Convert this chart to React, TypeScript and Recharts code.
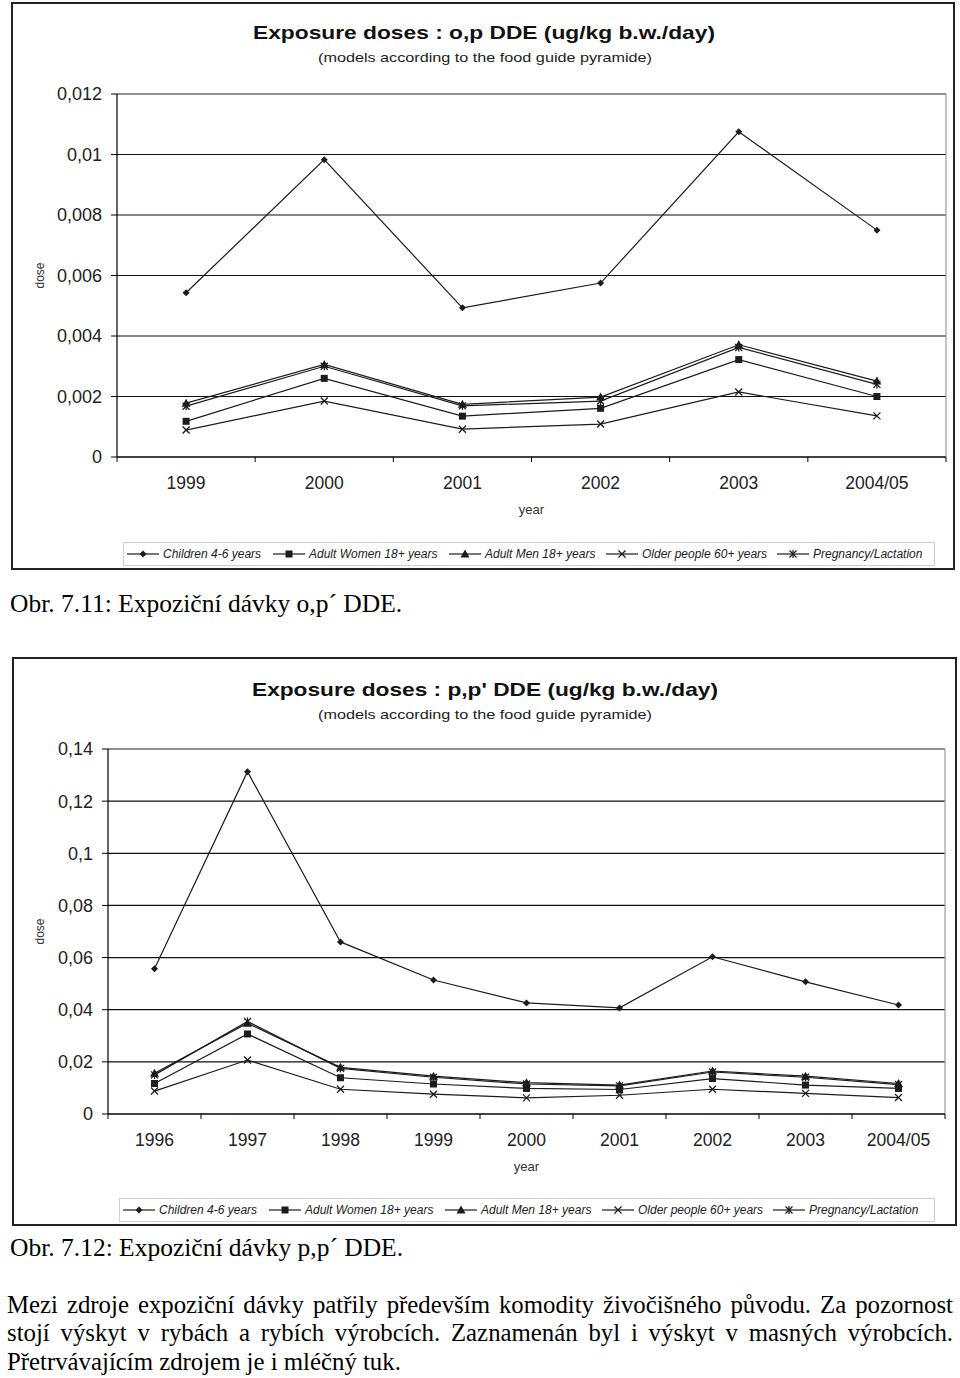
import React from 'react';
import { LineChart, Line, XAxis, YAxis, CartesianGrid, ReferenceLine, Label } from 'recharts';

// ---------- DATA: o,p DDE ----------
const opCategories = ['1999', '2000', '2001', '2002', '2003', '2004/05'];
const opChildren = [0.00543, 0.00983, 0.00493, 0.00575, 0.01075, 0.0075];
const opWomen = [0.00118, 0.0026, 0.00135, 0.00161, 0.00322, 0.002];
const opMen = [0.00178, 0.00306, 0.00174, 0.00198, 0.00371, 0.00251];
const opOlder = [0.00089, 0.00185, 0.00092, 0.00109, 0.00215, 0.00136];
const opPregnancy = [0.00168, 0.003, 0.00169, 0.00185, 0.00362, 0.0024];
const opTicks = [0, 0.002, 0.004, 0.006, 0.008, 0.01, 0.012];

// ---------- DATA: p,p' DDE ----------
const ppCategories = ['1996', '1997', '1998', '1999', '2000', '2001', '2002', '2003', '2004/05'];
const ppChildren = [0.0557, 0.1313, 0.066, 0.0514, 0.0426, 0.0407, 0.0603, 0.0507, 0.0418];
const ppWomen = [0.0117, 0.0307, 0.0139, 0.0115, 0.0098, 0.0094, 0.0136, 0.0111, 0.0098];
const ppMen = [0.0156, 0.0348, 0.0179, 0.0145, 0.012, 0.0111, 0.0165, 0.0145, 0.0117];
const ppOlder = [0.0088, 0.0207, 0.0095, 0.0076, 0.0062, 0.0072, 0.0095, 0.0079, 0.0063];
const ppPregnancy = [0.015, 0.0355, 0.0175, 0.0141, 0.0115, 0.0108, 0.0161, 0.0141, 0.0113];
const ppTicks = [0, 0.02, 0.04, 0.06, 0.08, 0.1, 0.12, 0.14];

const seriesNames = ['Children 4-6 years', 'Adult Women 18+ years', 'Adult Men 18+ years', 'Older people 60+ years', 'Pregnancy/Lactation'];
const seriesKeys = ['children', 'women', 'men', 'older', 'pregnancy'];
const seriesShapes = ['diamond', 'square', 'triangle', 'x', 'asterisk'];

const SANS = '"Liberation Sans", Arial, sans-serif';
const SERIF = '"Liberation Serif", "Times New Roman", serif';
const INK = '#1c1c1c';

function Marker({ shape, cx, cy }: { shape: string; cx: number; cy: number }) {
  if (cx == null || cy == null) return null;
  switch (shape) {
    case 'diamond':
      return <polygon points={`${cx},${cy - 3.5} ${cx + 3.5},${cy} ${cx},${cy + 3.5} ${cx - 3.5},${cy}`} fill={INK} />;
    case 'square':
      return <rect x={cx - 3.5} y={cy - 3.5} width={7} height={7} fill={INK} />;
    case 'triangle':
      return <polygon points={`${cx},${cy - 4.5} ${cx + 4.5},${cy + 3.5} ${cx - 4.5},${cy + 3.5}`} fill={INK} />;
    case 'x':
      return (
        <g stroke={INK} strokeWidth={1.3}>
          <line x1={cx - 3.5} y1={cy - 3.5} x2={cx + 3.5} y2={cy + 3.5} />
          <line x1={cx - 3.5} y1={cy + 3.5} x2={cx + 3.5} y2={cy - 3.5} />
        </g>
      );
    case 'asterisk':
    default:
      return (
        <g stroke={INK} strokeWidth={1.3}>
          <line x1={cx - 3.5} y1={cy - 3.5} x2={cx + 3.5} y2={cy + 3.5} />
          <line x1={cx - 3.5} y1={cy + 3.5} x2={cx + 3.5} y2={cy - 3.5} />
          <line x1={cx} y1={cy - 4} x2={cx} y2={cy + 4} />
        </g>
      );
  }
}

function makeDot(shape: string) {
  return (props: any) => (
    <Marker key={`${shape}-${props.index}`} shape={shape} cx={props.cx} cy={props.cy} />
  );
}

function XTick(props: any) {
  const { x, y, payload, categories } = props;
  const v = payload.value;
  if (Math.abs(v - Math.round(v)) < 1e-9) {
    return <line x1={x} x2={x} y1={y - 5} y2={y} stroke="#000" strokeWidth={1} />;
  }
  return (
    <text x={x} y={y + 27} textAnchor="middle" fontSize={17.5} fill="#222" fontFamily={SANS}>
      {categories[Math.floor(v)]}
    </text>
  );
}

function LegendBox({ left, top, width }: { left: number; top: number; width: number }) {
  const offsets = [3, 149, 325, 482, 653];
  return (
    <div
      style={{
        position: 'absolute',
        left,
        top,
        width,
        height: 24,
        border: '1px solid #cfcfcf',
        boxSizing: 'border-box',
        background: '#fff',
      }}
    >
      {seriesNames.map((name, i) => (
        <div
          key={name}
          style={{
            position: 'absolute',
            left: offsets[i],
            top: 0,
            height: 22,
            display: 'flex',
            alignItems: 'center',
            whiteSpace: 'nowrap',
          }}
        >
          <svg width={32} height={12} style={{ display: 'block' }}>
            <line x1={0} x2={32} y1={6} y2={6} stroke={INK} strokeWidth={1.2} />
            <Marker shape={seriesShapes[i]} cx={16} cy={6} />
          </svg>
          <span
            style={{
              marginLeft: 4,
              fontFamily: SANS,
              fontStyle: 'italic',
              fontSize: 12,
              color: '#222',
            }}
          >
            {name}
          </span>
        </div>
      ))}
    </div>
  );
}

type ChartProps = {
  top: number;
  height: number;
  margin: { top: number; right: number; bottom: number; left: number };
  categories: string[];
  series: number[][];
  ticks: number[];
  doseX: number;
};

function DoseChart({ top, height, margin, categories, series, ticks, doseX }: ChartProps) {
  const n = categories.length;
  const data = categories.map((c, i) => {
    const row: any = { x: i + 0.5, cat: c };
    seriesKeys.forEach((k, s) => {
      row[k] = series[s][i];
    });
    return row;
  });
  const xTicks: number[] = [];
  for (let i = 0; i <= n; i++) {
    xTicks.push(i);
    if (i < n) xTicks.push(i + 0.5);
  }
  const yMax = ticks[ticks.length - 1];
  const drawOrder = [3, 1, 4, 2, 0];
  return (
    <div style={{ position: 'absolute', left: 0, top }}>
      <LineChart width={960} height={height} data={data} margin={margin}>
        <CartesianGrid horizontal vertical={false} stroke="#111" strokeWidth={1.2} />
        <XAxis
          type="number"
          dataKey="x"
          domain={[0, n]}
          ticks={xTicks}
          interval={0}
          tickLine={false}
          tickSize={5}
          tickMargin={0}
          axisLine={{ stroke: '#000', strokeWidth: 1.2 }}
          tick={<XTick categories={categories} />}
          height={60}
          allowDataOverflow
        >
          <Label value="year" position="insideBottom" offset={3} fontSize={13} fill="#333" fontFamily={SANS} />
        </XAxis>
        <YAxis
          type="number"
          domain={[0, yMax]}
          ticks={ticks}
          interval={0}
          width={80}
          tickSize={6}
          tickMargin={9}
          axisLine={{ stroke: '#000', strokeWidth: 1.2 }}
          tickLine={{ stroke: '#000', strokeWidth: 1 }}
          tick={{ fontSize: 18, fill: '#222', fontFamily: SANS }}
          tickFormatter={(v: number) => String(v).replace('.', ',')}
          allowDataOverflow
        >
          <Label
            content={(p: any) => {
              const vb = p.viewBox || { y: 0, height: 0 };
              const cy = vb.y + vb.height / 2;
              return (
                <text
                  x={doseX}
                  y={cy}
                  transform={`rotate(-90 ${doseX} ${cy})`}
                  textAnchor="middle"
                  dominantBaseline="central"
                  fontSize={12}
                  fill="#333"
                  fontFamily={SANS}
                >
                  dose
                </text>
              );
            }}
          />
        </YAxis>
        <ReferenceLine y={yMax} stroke="#9a9a9a" strokeWidth={1.2} ifOverflow="extendDomain" />
        <ReferenceLine x={n} stroke="#9a9a9a" strokeWidth={1.2} />
        {drawOrder.map((s) => (
          <Line
            key={seriesKeys[s]}
            type="linear"
            dataKey={seriesKeys[s]}
            name={seriesNames[s]}
            stroke={INK}
            strokeWidth={1.2}
            dot={makeDot(seriesShapes[s])}
            activeDot={false}
            isAnimationActive={false}
          />
        ))}
      </LineChart>
    </div>
  );
}

function TitleSvg({
  top,
  title,
  titleX,
  titleW,
  subtitleX,
  subtitleW,
}: {
  top: number;
  title: string;
  titleX: number;
  titleW: number;
  subtitleX: number;
  subtitleW: number;
}) {
  return (
    <svg width={960} height={80} style={{ position: 'absolute', left: 0, top }}>
      <text
        x={titleX}
        y={39}
        fontSize={19}
        fontWeight="bold"
        fill="#111"
        fontFamily={SANS}
        textLength={titleW}
        lengthAdjust="spacingAndGlyphs"
      >
        {title}
      </text>
      <text
        x={subtitleX}
        y={62}
        fontSize={13}
        fill="#222"
        fontFamily={SANS}
        textLength={subtitleW}
        lengthAdjust="spacingAndGlyphs"
      >
        (models according to the food guide pyramide)
      </text>
    </svg>
  );
}

const lineStyle: React.CSSProperties = {
  position: 'absolute',
  left: 7,
  width: 946,
  fontFamily: SERIF,
  fontSize: 24.8,
  lineHeight: '28px',
  color: '#000',
  whiteSpace: 'nowrap',
};

const captionStyle: React.CSSProperties = { ...lineStyle, fontSize: 25.5, left: 10 };

export default function App() {
  return (
    <div
      style={{
        position: 'absolute',
        left: 0,
        top: 0,
        width: 960,
        height: 1378,
        background: '#fff',
        overflow: 'hidden',
      }}
    >
      {/* Chart 1 frame */}
      <div
        style={{
          position: 'absolute',
          left: 11,
          top: 2,
          width: 944,
          height: 568,
          border: '2px solid #222',
          boxSizing: 'border-box',
        }}
      />
      <TitleSvg
        top={0}
        title="Exposure doses : o,p DDE (ug/kg b.w./day)"
        titleX={253}
        titleW={462}
        subtitleX={318}
        subtitleW={334}
      />
      <DoseChart
        top={0}
        height={575}
        margin={{ top: 94, right: 14, bottom: 58, left: 37 }}
        categories={opCategories}
        series={[opChildren, opWomen, opMen, opOlder, opPregnancy]}
        ticks={opTicks}
        doseX={40}
      />
      <LegendBox left={123} top={542} width={812} />

      <div style={{ ...captionStyle, top: 590 }}>Obr. 7.11: Expoziční dávky o,p´ DDE.</div>

      {/* Chart 2 frame */}
      <div
        style={{
          position: 'absolute',
          left: 12,
          top: 657,
          width: 945,
          height: 569,
          border: '2px solid #222',
          boxSizing: 'border-box',
        }}
      />
      <TitleSvg
        top={657}
        title="Exposure doses : p,p' DDE (ug/kg b.w./day)"
        titleX={252}
        titleW={466}
        subtitleX={318}
        subtitleW={334}
      />
      <DoseChart
        top={655}
        height={575}
        margin={{ top: 94, right: 15, bottom: 56, left: 28 }}
        categories={ppCategories}
        series={[ppChildren, ppWomen, ppMen, ppOlder, ppPregnancy]}
        ticks={ppTicks}
        doseX={40}
      />
      <LegendBox left={119} top={1198} width={816} />

      <div style={{ ...captionStyle, top: 1234 }}>Obr. 7.12: Expoziční dávky p,p´ DDE.</div>

      <div style={{ ...lineStyle, top: 1291, textAlign: 'justify', textAlignLast: 'justify' as any, whiteSpace: 'normal' }}>
        Mezi zdroje expoziční dávky patřily především komodity živočišného původu. Za pozornost
      </div>
      <div style={{ ...lineStyle, top: 1319, textAlign: 'justify', textAlignLast: 'justify' as any, whiteSpace: 'normal' }}>
        stojí výskyt v rybách a rybích výrobcích. Zaznamenán byl i výskyt v masných výrobcích.
      </div>
      <div style={{ ...lineStyle, top: 1348 }}>Přetrvávajícím zdrojem je i mléčný tuk.</div>
    </div>
  );
}
